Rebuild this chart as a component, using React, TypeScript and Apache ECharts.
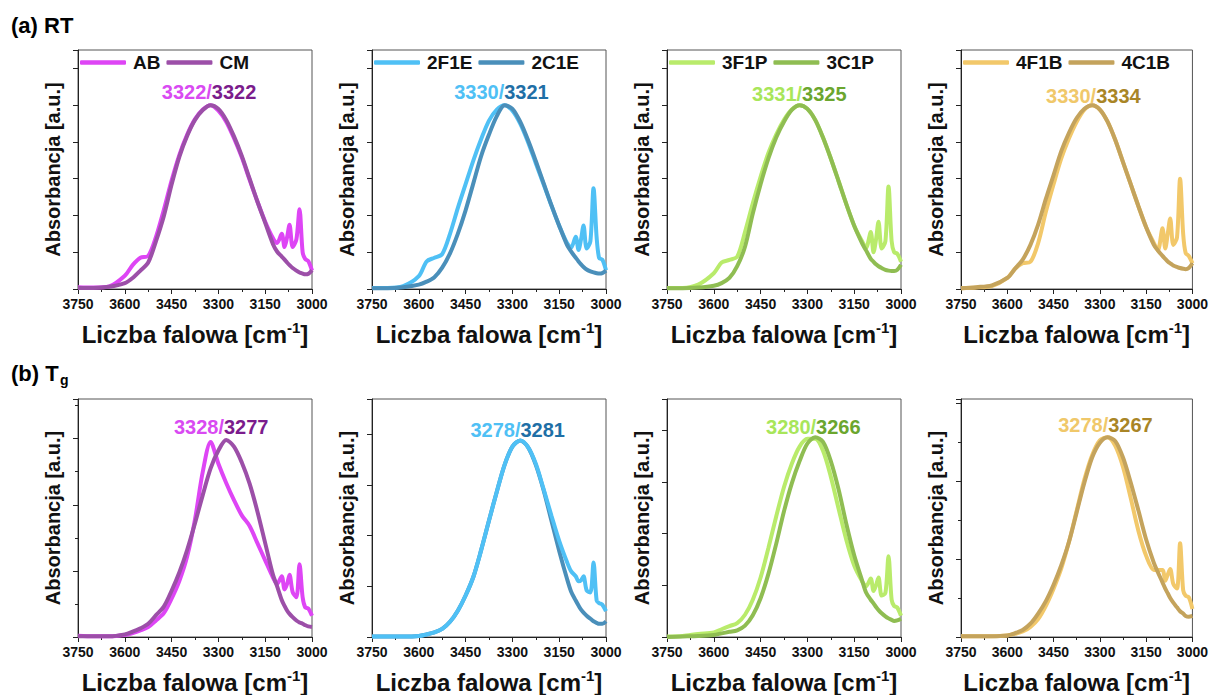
import React, { useEffect, useRef } from "react";
import * as echarts from "echarts";

// Wavenumber grid shared by all spectra [cm-1]
const wavenumbers = [3750, 3700, 3650, 3600, 3575, 3550, 3525, 3500, 3475, 3450, 3425, 3400, 3375, 3350, 3325, 3300, 3275, 3250, 3225, 3200, 3175, 3150, 3125, 3112, 3097, 3088, 3080, 3072, 3062, 3050, 3040, 3030, 3022, 3012, 3000];
const xTickValues = [3000, 3150, 3300, 3450, 3600, 3750];

// (a) RT
const rtAB = [0.05, 0.04, 0.07, 0.36, 0.65, 0.85, 0.9, 1.42, 2.15, 2.95, 3.65, 4.2, 4.62, 4.88, 5.0, 4.85, 4.55, 4.1, 3.58, 2.97, 2.38, 1.83, 1.38, 1.25, 1.5, 1.14, 1.4, 1.75, 1.14, 1.35, 2.17, 1.0, 0.82, 0.76, 0.5];
const rtCM = [0.03, 0.03, 0.06, 0.16, 0.3, 0.5, 0.72, 1.3, 1.98, 2.84, 3.6, 4.17, 4.6, 4.87, 5.0, 4.9, 4.6, 4.15, 3.62, 3.0, 2.38, 1.8, 1.22, 1.02, 0.88, 0.8, 0.72, 0.65, 0.57, 0.5, 0.45, 0.42, 0.4, 0.41, 0.51];
const rt2F1E = [0.03, 0.03, 0.08, 0.35, 0.75, 0.85, 0.95, 1.5, 2.2, 2.85, 3.5, 4.08, 4.58, 4.88, 5.0, 4.85, 4.5, 4.0, 3.42, 2.85, 2.27, 1.72, 1.25, 1.12, 1.42, 1.06, 1.35, 1.73, 1.1, 1.3, 2.74, 1.4, 0.84, 0.8, 0.51];
const rt2C1E = [0.02, 0.02, 0.05, 0.12, 0.2, 0.32, 0.58, 0.97, 1.5, 2.14, 2.88, 3.62, 4.2, 4.7, 5.0, 4.9, 4.55, 4.05, 3.48, 2.88, 2.28, 1.72, 1.2, 1.02, 0.85, 0.75, 0.67, 0.6, 0.53, 0.48, 0.45, 0.43, 0.42, 0.43, 0.5];
const rt3F1P = [0.03, 0.03, 0.12, 0.43, 0.72, 0.79, 0.88, 1.55, 2.33, 3.05, 3.7, 4.2, 4.6, 4.88, 5.0, 4.9, 4.6, 4.12, 3.55, 2.93, 2.3, 1.72, 1.3, 1.12, 1.55, 1.0, 1.35, 1.83, 1.1, 1.3, 2.79, 1.3, 1.0, 0.96, 0.74];
const rt3C1P = [0.02, 0.02, 0.04, 0.09, 0.16, 0.3, 0.62, 1.15, 2.05, 2.85, 3.55, 4.12, 4.55, 4.87, 5.0, 4.9, 4.6, 4.12, 3.55, 2.93, 2.3, 1.72, 1.25, 1.05, 0.82, 0.74, 0.67, 0.62, 0.57, 0.52, 0.5, 0.49, 0.49, 0.52, 0.66];
const rt4F1B = [0.02, 0.04, 0.08, 0.3, 0.55, 0.7, 0.74, 1.25, 2.1, 2.85, 3.55, 4.1, 4.55, 4.88, 5.0, 4.88, 4.55, 4.05, 3.45, 2.85, 2.25, 1.68, 1.25, 1.05, 1.65, 1.1, 1.5, 1.92, 1.2, 1.4, 3.0, 1.5, 0.98, 0.9, 0.7];
const rt4C1B = [0.02, 0.05, 0.1, 0.3, 0.55, 0.8, 1.2, 1.75, 2.45, 3.1, 3.75, 4.25, 4.65, 4.9, 5.0, 4.88, 4.55, 4.05, 3.45, 2.85, 2.25, 1.68, 1.2, 1.05, 0.9, 0.82, 0.75, 0.7, 0.64, 0.6, 0.57, 0.55, 0.54, 0.57, 0.7];

// (b) Tg
const tgAB = [0.02, 0.01, 0.01, 0.03, 0.06, 0.1, 0.15, 0.25, 0.36, 0.58, 0.85, 1.22, 1.78, 2.5, 2.95, 2.62, 2.33, 2.07, 1.84, 1.68, 1.42, 1.16, 0.9, 0.8, 0.92, 0.72, 0.8, 0.94, 0.68, 0.6, 1.1, 0.6, 0.45, 0.43, 0.32];
const tgCM = [0.01, 0.01, 0.01, 0.04, 0.08, 0.13, 0.2, 0.33, 0.46, 0.7, 0.98, 1.32, 1.72, 2.15, 2.55, 2.82, 2.98, 2.88, 2.64, 2.32, 1.9, 1.42, 0.94, 0.77, 0.56, 0.47, 0.4, 0.35, 0.3, 0.25, 0.22, 0.2, 0.18, 0.16, 0.15];
const tg2F1E = [0.01, 0.01, 0.01, 0.02, 0.05, 0.09, 0.16, 0.3, 0.52, 0.82, 1.19, 1.72, 2.3, 2.87, 3.4, 3.76, 3.88, 3.75, 3.42, 2.92, 2.4, 1.9, 1.48, 1.3, 1.2, 1.1, 1.12, 1.2, 0.92, 0.88, 1.47, 0.72, 0.67, 0.64, 0.51];
const tg2C1E = [0.01, 0.01, 0.01, 0.02, 0.05, 0.09, 0.16, 0.3, 0.52, 0.82, 1.19, 1.72, 2.3, 2.87, 3.4, 3.76, 3.88, 3.75, 3.4, 2.9, 2.3, 1.7, 1.15, 0.9, 0.72, 0.62, 0.54, 0.48, 0.42, 0.36, 0.31, 0.28, 0.26, 0.26, 0.31];
const tg3F1P = [0.01, 0.02, 0.06, 0.09, 0.15, 0.21, 0.27, 0.43, 0.72, 1.15, 1.72, 2.33, 2.9, 3.35, 3.68, 3.83, 3.83, 3.6, 3.1, 2.48, 1.87, 1.38, 1.08, 0.98, 1.13, 0.89, 1.0, 1.15, 0.8, 0.85, 1.56, 0.72, 0.6, 0.57, 0.41];
const tg3C1P = [0.0, 0.01, 0.02, 0.04, 0.07, 0.1, 0.13, 0.22, 0.42, 0.75, 1.22, 1.8, 2.43, 2.97, 3.4, 3.74, 3.86, 3.77, 3.4, 2.85, 2.18, 1.58, 1.1, 0.86, 0.72, 0.65, 0.58, 0.52, 0.46, 0.4, 0.36, 0.33, 0.31, 0.32, 0.35];
const tg4F1B = [0.01, 0.01, 0.01, 0.02, 0.04, 0.07, 0.13, 0.23, 0.4, 0.62, 0.88, 1.22, 1.62, 2.02, 2.33, 2.52, 2.56, 2.45, 2.18, 1.78, 1.36, 1.04, 0.86, 0.86, 0.86, 0.72, 0.8, 0.87, 0.68, 0.62, 1.2, 0.6, 0.53, 0.51, 0.36];
const tg4C1B = [0.01, 0.01, 0.01, 0.02, 0.05, 0.09, 0.17, 0.3, 0.46, 0.67, 0.92, 1.22, 1.6, 1.98, 2.3, 2.49, 2.56, 2.51, 2.3, 1.98, 1.62, 1.25, 0.95, 0.83, 0.7, 0.62, 0.56, 0.5, 0.44, 0.38, 0.33, 0.3, 0.27, 0.26, 0.27];

// Series names and peak-position labels
const seriesNames = [["AB", "CM"], ["2F1E", "2C1E"], ["3F1P", "3C1P"], ["4F1B", "4C1B"]];
const peakLabelsRT = [["3322", "3322"], ["3330", "3321"], ["3331", "3325"], ["3330", "3334"]];
const peakLabelsTg = [["3328", "3277"], ["3278", "3281"], ["3280", "3266"], ["3278", "3267"]];
const rowTitles = ["(a) RT", "(b) T", "g"];

const FONT = 'Arial, "Liberation Sans", Helvetica, sans-serif';
const lineColors = [["#DE45F5", "#9C4FA8"], ["#4FC0F5", "#4A8FBA"], ["#B9EB6B", "#8FBD52"], ["#F2C86A", "#C4A35C"]];
const textColors = [["#D94AF2", "#7B1C8C"], ["#4FC0F5", "#1F6FA6"], ["#A8E65A", "#6BA62E"], ["#F0C86A", "#A98526"]];

const rtData = [[rtAB, rtCM], [rt2F1E, rt2C1E], [rt3F1P, rt3C1P], [rt4F1B, rt4C1B]];
const tgData = [[tgAB, tgCM], [tg2F1E, tg2C1E], [tg3F1P, tg3C1P], [tg4F1B, tg4C1B]];

// layout
const lefts = [78, 372, 667, 961];
const tops = [50, 399];
const heights = [239, 238];
const yMaxRT = [6.5, 6.5, 6.5, 6.5];
const yMaxTg = [3.6, 4.7, 4.6, 3.05];
const yMinorTg = [true, false, false, true];
const annPosRT = [[3330, 5.35], [3335, 5.37], [3326, 5.31], [3321, 5.26]];
const annPosTg = [[3291, 3.18], [3283, 4.08], [3281, 4.06], [3282, 2.72]];

function buildOption() {
  const grid: any[] = [];
  const xAxis: any[] = [];
  const yAxis: any[] = [];
  const series: any[] = [];
  const legend: any[] = [];

  for (let row = 0; row < 2; row++) {
    for (let col = 0; col < 4; col++) {
      const i = row * 4 + col;
      const data = row === 0 ? rtData[col] : tgData[col];
      const labels = row === 0 ? peakLabelsRT[col] : peakLabelsTg[col];
      const ann = row === 0 ? annPosRT[col] : annPosTg[col];
      const yMax = row === 0 ? yMaxRT[col] : yMaxTg[col];
      const minorY = row === 0 ? false : yMinorTg[col];

      grid.push({
        left: lefts[col], top: tops[row], width: 234, height: heights[row],
        show: true, borderColor: "#555", borderWidth: 1, backgroundColor: "transparent",
      });
      xAxis.push({
        type: "value", gridIndex: i, inverse: true,
        min: xTickValues[0], max: xTickValues[xTickValues.length - 1], interval: 150,
        axisLine: { show: true, onZero: false, lineStyle: { color: "#222", width: 1 } },
        axisTick: { show: true, length: 5, lineStyle: { color: "#222" } },
        minorTick: { show: true, splitNumber: 2, length: 3, lineStyle: { color: "#222" } },
        splitLine: { show: false },
        axisLabel: {
          color: "#111", fontWeight: "bold", fontSize: 14, fontFamily: FONT, margin: 8,
          formatter: (v: number) => String(v),
        },
        name: "{t|Liczba falowa [cm}{s|-1}{t|]}",
        nameLocation: "middle",
        nameGap: 31,
        nameTextStyle: {
          rich: {
            t: { fontSize: 24, fontWeight: "bold", fontFamily: FONT, color: "#111", lineHeight: 28 },
            s: { fontSize: 15, fontWeight: "bold", fontFamily: FONT, color: "#111", verticalAlign: "top", lineHeight: 16 },
          },
        },
      });
      yAxis.push({
        type: "value", gridIndex: i, min: 0, max: yMax, interval: 1,
        axisLine: { show: true, onZero: false, lineStyle: { color: "#222", width: 1 } },
        axisTick: { show: true, length: 5, lineStyle: { color: "#222" } },
        minorTick: { show: minorY, splitNumber: 2, length: 3, lineStyle: { color: "#222" } },
        splitLine: { show: false },
        axisLabel: { show: false },
        name: "Absorbancja [a.u.]",
        nameLocation: "middle",
        nameGap: 15,
        nameTextStyle: { fontSize: 20, fontWeight: "bold", fontFamily: FONT, color: "#111" },
      });

      [0, 1].forEach((k) => {
        const s: any = {
          type: "line",
          name: seriesNames[col][k],
          xAxisIndex: i, yAxisIndex: i,
          data: wavenumbers.map((w, j) => [w, data[k][j]]),
          showSymbol: false, symbol: "none",
          smooth: 0.3,
          color: lineColors[col][k],
          lineStyle: { width: 4, color: lineColors[col][k] },
          z: row === 1 && col === 1 && k === 0 ? 4 : 2 + k,
          silent: true,
        };
        if (k === 0) {
          s.markPoint = {
            silent: true, symbol: "circle", symbolSize: 0,
            itemStyle: { color: "transparent" },
            label: {
              show: true, position: "inside",
              formatter: () => `{p|${labels[0]}/}{q|${labels[1]}}`,
              rich: {
                p: { color: textColors[col][0], fontSize: 20, fontWeight: "bold", fontFamily: FONT },
                q: { color: textColors[col][1], fontSize: 20, fontWeight: "bold", fontFamily: FONT },
              },
            },
            data: [{ coord: ann }],
          };
        }
        series.push(s);
      });

      if (row === 0) {
        legend.push({
          data: seriesNames[col],
          left: lefts[col] + 2, top: 53,
          icon: "roundRect", itemWidth: 46, itemHeight: 4.5, itemGap: 6,
          padding: 0, selectedMode: false,
          textStyle: { fontSize: 19, fontWeight: "bold", fontFamily: FONT, color: "#111", padding: [0, 0, 0, 2] },
        });
      }
    }
  }

  return {
    animation: false,
    backgroundColor: "#ffffff",
    grid, xAxis, yAxis, series, legend,
    graphic: [
      { type: "text", left: 11, top: 14, style: { text: rowTitles[0], font: `bold 22px ${FONT}`, fill: "#000" } },
      { type: "text", left: 11, top: 362, style: { text: rowTitles[1], font: `bold 22px ${FONT}`, fill: "#000" } },
      { type: "text", left: 60, top: 373, style: { text: rowTitles[2], font: `bold 14px ${FONT}`, fill: "#000" } },
    ],
  };
}

export default function App() {
  const ref = useRef<HTMLDivElement>(null);
  useEffect(() => {
    if (!ref.current) return;
    const chart = echarts.init(ref.current, undefined, { renderer: "svg" });
    chart.setOption(buildOption() as any);
    return () => chart.dispose();
  }, []);
  return (
    <div
      ref={ref}
      style={{ position: "absolute", left: 0, top: 0, width: 1211, height: 695, background: "#fff" }}
    />
  );
}
